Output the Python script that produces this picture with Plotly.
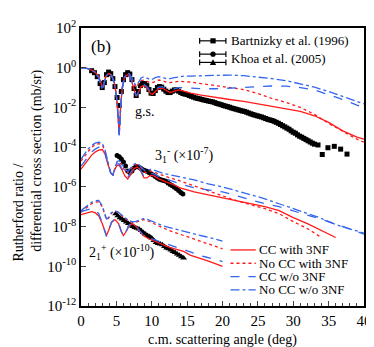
import plotly.graph_objects as go

# values are read off the log axis, given as log10 of the cross section
# ---- ground state ----
gs_theta = [0, 0.5, 1, 1.5, 2, 2.5, 2.8, 3.0, 3.2, 3.5, 3.9, 4.3, 4.7, 5.0, 5.2, 5.4, 5.6, 5.8,
            6.1, 6.5, 6.8, 7.1, 7.5, 7.8, 8.1, 8.5, 8.9, 9.4, 9.8, 10.1, 10.5, 11.0, 11.5, 12.0,
            12.6, 13.2, 13.8, 14.5, 15.5, 17, 19, 21, 23, 25, 27, 29, 31, 33, 35, 37, 39, 40]
gs_cc_3nf = [0.0, -0.01, -0.05, -0.12, -0.22, -0.45, -0.7, -0.95, -0.85, -0.45, -0.3, -0.38,
             -0.75, -1.4, -2.2, -3.35, -2.0, -1.1, -0.55, -0.35, -0.38, -0.6, -1.1, -1.45,
             -1.25, -0.95, -0.9, -1.05, -1.3, -1.35, -1.2, -1.05, -1.03, -1.15, -1.25, -1.18,
             -1.12, -1.18, -1.28, -1.38, -1.5, -1.6, -1.7, -1.82, -1.97, -2.07, -2.2, -2.42,
             -2.75, -3.18, -3.5, -3.6]
gs_nocc_3nf = [0.0, -0.01, -0.05, -0.12, -0.22, -0.45, -0.72, -0.98, -0.85, -0.43, -0.28, -0.36,
               -0.72, -1.38, -2.2, -3.35, -2.0, -1.05, -0.5, -0.32, -0.33, -0.5, -0.85, -1.0,
               -0.82, -0.65, -0.62, -0.7, -0.76, -0.75, -0.68, -0.62, -0.65, -0.72, -0.75, -0.7,
               -0.68, -0.7, -0.72, -0.8, -0.9, -1.0, -1.1, -1.3, -1.55, -1.75, -2.0, -2.35,
               -2.8, -3.2, -3.6, -3.75]
gs_cc_no3nf = [0.0, -0.01, -0.05, -0.12, -0.24, -0.5, -0.8, -1.1, -0.9, -0.45, -0.3, -0.38,
               -0.78, -1.45, -2.3, -3.4, -2.1, -1.15, -0.55, -0.33, -0.36, -0.6, -1.1, -1.42,
               -1.25, -0.92, -0.85, -0.98, -1.2, -1.25, -1.1, -0.98, -0.95, -1.05, -1.12, -1.05,
               -1.0, -1.0, -1.03, -1.06, -1.06, -1.04, -1.0, -0.95, -0.92, -0.93, -1.0, -1.12,
               -1.35, -1.6, -1.88, -2.0]
gs_nocc_no3nf = [0.0, -0.01, -0.05, -0.12, -0.24, -0.5, -0.8, -1.1, -0.9, -0.43, -0.28, -0.35,
                 -0.72, -1.4, -2.3, -3.4, -2.1, -1.05, -0.5, -0.3, -0.3, -0.45, -0.75, -0.9,
                 -0.75, -0.52, -0.45, -0.55, -0.6, -0.58, -0.5, -0.45, -0.48, -0.55, -0.55, -0.5,
                 -0.45, -0.42, -0.42, -0.4, -0.36, -0.37, -0.4, -0.47, -0.55, -0.65, -0.8, -0.98,
                 -1.2, -1.45, -1.7, -1.82]
gs_exp_theta = [1.5, 1.9, 2.3, 2.7, 3.0, 3.3, 3.6, 3.9, 4.2, 4.5, 4.8, 5.1, 5.4, 5.7, 6.0, 6.3,
                6.6, 6.9, 7.2, 7.5, 7.8, 8.1, 8.4, 8.7, 9.0, 9.3, 9.6, 9.9, 10.2, 10.5, 10.8, 11.1,
                11.4, 11.7, 12.0, 12.3, 12.6, 12.9, 13.2, 13.5, 13.8, 14.1, 14.4, 14.7, 15.0, 15.3,
                15.6, 15.9, 16.2, 16.5, 16.8, 17.1, 17.4, 17.7, 18.0, 18.3, 18.6, 18.9, 19.2, 19.5,
                19.8, 20.1, 20.4, 20.7, 21.0, 21.3, 21.6, 21.9, 22.2, 22.5, 22.8, 23.1, 23.4, 23.7,
                24.0, 24.3, 24.6, 24.9, 25.2, 25.5, 25.8, 26.1, 26.4, 26.7, 27.0, 27.3, 27.6, 27.9,
                28.2, 28.5, 28.8, 29.1, 29.4, 29.7, 30.0, 30.3, 30.6, 30.9, 31.2, 31.5, 31.8, 32.1,
                32.4, 32.7, 33.0, 33.5, 34.1, 34.9, 35.8, 36.7, 37.6]
gs_exp = [-0.15, -0.25, -0.45, -0.8, -1.0, -0.75, -0.35, -0.22, -0.3, -0.55, -0.95, -1.5, -1.9,
          -1.2, -0.6, -0.35, -0.25, -0.32, -0.6, -1.05, -1.4, -1.2, -0.9, -0.8, -0.8, -0.9, -1.1,
          -1.28, -1.3, -1.15, -1.0, -0.95, -0.98, -1.08, -1.18, -1.25, -1.25, -1.18, -1.12, -1.12,
          -1.18, -1.25, -1.3, -1.33, -1.35, -1.4, -1.44, -1.48, -1.52, -1.55, -1.57, -1.6, -1.63,
          -1.65, -1.68, -1.7, -1.72, -1.76, -1.8, -1.83, -1.86, -1.9, -1.93, -1.96, -1.99, -2.03,
          -2.06, -2.09, -2.12, -2.15, -2.18, -2.2, -2.24, -2.28, -2.32, -2.36, -2.39, -2.42, -2.45,
          -2.48, -2.52, -2.56, -2.6, -2.63, -2.66, -2.7, -2.75, -2.8, -2.86, -2.92, -2.98, -3.04,
          -3.1, -3.18, -3.25, -3.3, -3.38, -3.45, -3.5, -3.56, -3.62, -3.68, -3.74, -3.8, -3.85,
          -3.89, -4.37, -4.03, -3.96, -4.1, -4.35]

# ---- 3- state (x1e-7) ----
oct_theta = [0, 0.5, 1, 1.5, 2, 2.5, 3.0, 3.4, 3.8, 4.2, 4.5, 4.8, 5.1, 5.4, 5.8, 6.2, 6.6, 7.0,
             7.5, 8.0, 8.5, 8.9, 9.3, 9.8, 10.3, 11, 12, 13, 14, 16, 18, 20, 22, 24, 26, 28,
             30, 32, 33.7, 36, 38, 40]
oct_cc_3nf = [-5.1, -4.85, -4.6, -4.4, -4.25, -4.15, -4.12, -4.35, -4.85, -5.3, -5.4, -5.1,
              -4.92, -4.92, -5.15, -5.45, -5.6, -5.4, -5.08, -5.0, -5.25, -5.55, -5.55, -5.42,
              -5.45, -5.6, -5.75, -5.88, -6.05, -6.25, -6.4, -6.55, -6.7, -6.85, -7.0, -7.2,
              -7.55, -7.85, -8.15, -8.55, None, None]
oct_nocc_3nf = [-4.7, -4.45, -4.2, -4.0, -3.88, -3.82, -3.88, -4.2, -4.82, -5.3, -5.4, -5.02,
                -4.78, -4.75, -4.92, -5.2, -5.3, -5.12, -4.92, -4.88, -5.05, -5.25, -5.28, -5.2,
                -5.25, -5.35, -5.48, -5.58, -5.7, -5.95, -6.2, -6.45, -6.7, -6.9, -7.1, -7.35,
                -7.75, -8.1, -8.49, None, None, None]
oct_cc_no3nf = [-4.95, -4.7, -4.45, -4.25, -4.1, -4.0, -4.0, -4.3, -4.85, -5.3, -5.4, -5.05,
                -4.85, -4.85, -5.08, -5.38, -5.52, -5.3, -5.0, -4.95, -5.2, -5.48, -5.45, -5.32,
                -5.35, -5.48, -5.6, -5.72, -5.85, -6.05, -6.15, -6.25, -6.45, -6.65, -6.85, -7.0,
                -7.2, -7.4, -7.6, -7.88, -8.12, -8.38]
oct_nocc_no3nf = [-4.6, -4.35, -4.1, -3.92, -3.8, -3.75, -3.8, -4.15, -4.8, -5.3, -5.4, -5.0,
                  -4.72, -4.68, -4.85, -5.12, -5.22, -5.05, -4.85, -4.82, -4.98, -5.15, -5.18,
                  -5.12, -5.15, -5.25, -5.35, -5.42, -5.5, -5.65, -5.85, -6.0, -6.2, -6.4, -6.6,
                  -6.85, -7.1, -7.35, -7.55, -7.9, -8.1, -8.33]
oct_exp_theta = [5.1, 5.4, 5.7, 6.0, 6.3, 6.6, 6.9, 7.2, 7.5, 7.8, 8.1, 8.4, 8.7, 9.0, 9.3, 9.6,
                 9.9, 10.2, 10.5, 10.8, 11.1, 11.4, 11.7, 12.0, 12.3, 12.6, 12.9, 13.2, 13.5, 13.8,
                 14.1, 14.4]
oct_exp = [-4.42, -4.48, -4.6, -4.75, -4.95, -5.2, -5.28, -5.2, -5.05, -4.98, -5.0, -5.05, -5.12,
           -5.18, -5.22, -5.28, -5.35, -5.4, -5.48, -5.56, -5.62, -5.65, -5.68, -5.72, -5.8,
           -5.88, -5.94, -6.02, -6.1, -6.18, -6.28, -6.36]

# ---- 2+ state (x1e-10) ----
quad_theta = [0, 0.5, 1.0, 1.5, 2.0, 2.5, 3.0, 3.3, 3.6, 3.9, 4.3, 4.8, 5.3, 5.7, 6.0, 6.3, 6.8,
              7.3, 7.8, 8.3, 8.8, 9.5, 10.5, 11.5, 12.5, 13.5, 14.5, 15.5, 16.5, 17.5, 18.5, 19.5, 20]
quad_cc_3nf = [-7.4, -7.35, -7.28, -7.25, -7.3, -7.45, -7.85, -8.2, -8.45, -8.2, -7.8, -7.65,
               -7.85, -8.25, -8.45, -8.3, -7.95, -7.85, -8.0, -8.25, -8.45, -8.6, -8.75, -8.9,
               -9.05, -9.15, -9.25, -9.45, -9.58, -9.68, -9.8, -9.95, -10.0]
quad_nocc_3nf = [-7.28, -7.12, -6.97, -6.85, -6.77, -6.75, -7.0, -7.35, -7.65, -7.58, -7.33,
                 -7.22, -7.3, -7.42, -7.52, -7.6, -7.72, -7.8, -7.78, -7.7, -7.65, -7.72, -7.9,
                 -8.05, -8.2, -8.33, -8.45, -8.58, -8.7, -8.82, -8.93, -9.05, -9.12]
quad_cc_no3nf = [-7.25, -7.2, -7.12, -7.1, -7.15, -7.35, -7.8, -8.2, -8.5, -8.25, -7.78, -7.6,
                 -7.82, -8.25, -8.5, -8.32, -7.92, -7.82, -7.97, -8.22, -8.42, -8.55, -8.68,
                 -8.82, -8.95, -9.05, -9.15, -9.3, -9.42, -9.52, -9.62, -9.72, -9.76]
quad_nocc_no3nf = [-7.2, -7.05, -6.9, -6.78, -6.7, -6.68, -6.95, -7.3, -7.62, -7.55, -7.3, -7.2,
                   -7.28, -7.4, -7.5, -7.58, -7.7, -7.76, -7.74, -7.66, -7.6, -7.65, -7.82,
                   -7.95, -8.05, -8.15, -8.22, -8.32, -8.42, -8.5, -8.58, -8.68, -8.73]
quad_exp_theta = [4.9, 5.2, 5.5, 5.8, 6.1, 6.4, 6.7, 7.0, 7.3, 7.6, 7.9, 8.2, 8.5, 8.8, 9.1, 9.4,
                  9.7, 10.0, 10.3, 10.6, 10.9, 11.2, 11.5, 11.8, 12.1, 12.4, 12.7, 13.0, 13.3,
                  13.6, 13.9, 14.2, 14.5]
quad_exp = [-7.35, -7.45, -7.55, -7.62, -7.7, -7.77, -7.85, -7.92, -8.0, -8.05, -8.08, -8.12,
            -8.2, -8.3, -8.38, -8.45, -8.5, -8.58, -8.7, -8.8, -8.85, -8.88, -8.92, -9.0, -9.08,
            -9.12, -9.18, -9.25, -9.3, -9.38, -9.45, -9.52, -9.58]

y_exponents = [2, 0, -2, -4, -6, -8, -10, -12]

RED = '#ff1a1a'
BLUE = '#3366ee'
FONT = 'Liberation Serif'


def to_val(logs):
    return [None if v is None else 10 ** v for v in logs]


fig = go.Figure()

styles = [(RED, 'solid'), (RED, 'dot'), (BLUE, 'dash'), (BLUE, 'dashdot')]
groups = [
    (gs_theta, [gs_cc_3nf, gs_nocc_3nf, gs_cc_no3nf, gs_nocc_no3nf]),
    (oct_theta, [oct_cc_3nf, oct_nocc_3nf, oct_cc_no3nf, oct_nocc_no3nf]),
    (quad_theta, [quad_cc_3nf, quad_nocc_3nf, quad_cc_no3nf, quad_nocc_no3nf]),
]

# experimental points first so theory lines sit on top
for th, vals, sym, sz in [(gs_exp_theta, gs_exp, 'square', 5),
                          (oct_exp_theta, oct_exp, 'circle', 5),
                          (quad_exp_theta, quad_exp, 'triangle-up', 6)]:
    fig.add_trace(go.Scatter(x=th, y=to_val(vals), mode='markers',
                             marker=dict(symbol=sym, size=sz, color='black'),
                             showlegend=False, hoverinfo='skip'))

for th, curves in groups:
    for vals, (col, dash) in zip(curves, styles):
        fig.add_trace(go.Scatter(x=th, y=to_val(vals), mode='lines',
                                 line=dict(color=col, dash=dash, width=1.3),
                                 showlegend=False, hoverinfo='skip'))

# hand made legends (paper coordinates; px/py measured on the reference picture)
def px2x(px):
    return (px - 73) / 291


def py2y(py):
    return (305 - py) / 292.5


shapes = []
annots = []
# data legend
for py in [26, 40, 48.7]:
    shapes.append(dict(type='line', xref='paper', yref='paper', x0=px2x(195), x1=px2x(222),
                       y0=py2y(py), y1=py2y(py), line=dict(color='black', width=1.2)))
    for cx in [195, 222]:
        shapes.append(dict(type='line', xref='paper', yref='paper', x0=px2x(cx), x1=px2x(cx),
                           y0=py2y(py - 3), y1=py2y(py + 3), line=dict(color='black', width=1.2)))
shapes.append(dict(type='rect', xref='paper', yref='paper', x0=px2x(206), x1=px2x(211.5),
                   y0=py2y(28.7), y1=py2y(23.3), fillcolor='black', line=dict(width=0)))
shapes.append(dict(type='circle', xref='paper', yref='paper', x0=px2x(206), x1=px2x(211.5),
                   y0=py2y(42.7), y1=py2y(37.3), fillcolor='black', line=dict(width=0)))
shapes.append(dict(type='path', xref='paper', yref='paper',
                   path='M %f,%f L %f,%f L %f,%f Z' % (px2x(205.5), py2y(51.5), px2x(212), py2y(51.5),
                                                       px2x(208.75), py2y(45.5)),
                   fillcolor='black', line=dict(width=0)))
annots.append(dict(text='Bartnizky et al. (1996)', x=px2x(226), y=py2y(26)))
annots.append(dict(text='Khoa et al. (2005)', x=px2x(226), y=py2y(44.5)))

# theory legend
names = ['CC with 3NF', 'No CC with 3NF', 'CC w/o 3NF', 'No CC w/o 3NF']
for i, (name, (col, dash)) in enumerate(zip(names, styles)):
    py = 246 + 14 * i
    shapes.append(dict(type='line', xref='paper', yref='paper', x0=px2x(226.7), x1=px2x(252.7),
                       y0=py2y(py), y1=py2y(py), line=dict(color=col, dash=dash, width=1.3)))
    annots.append(dict(text=name, x=px2x(255), y=py2y(py), height=13))

annotations = [dict(a, xref='paper', yref='paper', xanchor='left', yanchor='middle',
                    showarrow=False, borderpad=0,
                    font=dict(family=FONT, size=13, color='black'))
               for a in annots]
annotations += [
    dict(text='(b)', x=px2x(82), y=py2y(32), xanchor='left'),
    dict(text='g.s.', x=px2x(138), y=py2y(100), xanchor='center'),
    dict(text='3<sub>1</sub><sup>-</sup> (×10<sup>-7</sup>)', x=px2x(148), y=py2y(146),
         xanchor='left'),
    dict(text='2<sub>1</sub><sup>+</sup> (×10<sup>-10</sup>)', x=px2x(80), y=py2y(248),
         xanchor='left'),
]
for a in annotations[len(annots):]:
    a.update(xref='paper', yref='paper', yanchor='middle', showarrow=False, borderpad=0,
             font=dict(family=FONT, size=17 if a['text'] == '(b)' else 14, color='black'))

# y axis title, two lines placed separately
annotations.append(dict(text='Rutherford ratio /', x=px2x(9), y=py2y(207), xref='paper',
                        yref='paper', textangle=-90, showarrow=False, xanchor='center',
                        yanchor='middle', font=dict(family=FONT, size=14, color='black')))
annotations.append(dict(text='differential cross section (mb/sr)', x=px2x(27), y=py2y(152),
                        xref='paper', yref='paper', textangle=-90, showarrow=False,
                        xanchor='center', yanchor='middle',
                        font=dict(family=FONT, size=14, color='black')))

fig.update_layout(
    width=374, height=347,
    margin=dict(l=73, r=10, t=12, b=42),
    plot_bgcolor='white', paper_bgcolor='white',
    font=dict(family=FONT, size=15, color='black'),
    shapes=shapes, annotations=annotations,
    showlegend=False,
    xaxis=dict(range=[0, 40], dtick=5, ticks='inside', ticklen=5, tickwidth=1,
               tickfont=dict(family=FONT, size=15),
               showline=True, linecolor='black', linewidth=1.5, mirror=True, showgrid=False,
               zeroline=False, minor=dict(dtick=1, ticks='inside', ticklen=3),
               title=dict(text='c.m. scattering angle (deg)', font=dict(family=FONT, size=14),
                          standoff=6)),
    yaxis=dict(type='log', range=[-12, 2],
               tickvals=[10.0 ** e for e in y_exponents],
               ticktext=['10<sup>%d</sup>' % e for e in y_exponents],
               tickfont=dict(family=FONT, size=15),
               ticks='inside', ticklen=5, tickwidth=1, showline=True, linecolor='black',
               linewidth=1.5, mirror=True, showgrid=False, zeroline=False),
)

fig.write_html("out.html")
